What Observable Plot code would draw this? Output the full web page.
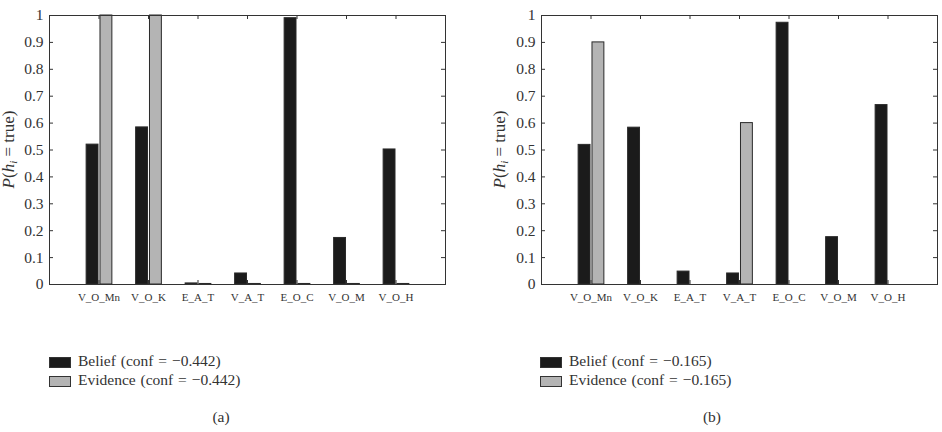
<!DOCTYPE html>
<html>
<head>
<meta charset="utf-8">
<script src="https://cdn.jsdelivr.net/npm/d3@7"></script>
<script src="https://cdn.jsdelivr.net/npm/@observablehq/plot@0.6"></script>
<style>
  body { margin: 0; background: #fff; font-family: "Liberation Serif", "DejaVu Serif", serif; color: #222; }
  #root { position: relative; width: 942px; height: 432px; overflow: hidden; }
  .panel { position: absolute; top: 0; width: 471px; height: 305px; }
  .sw { position: absolute; width: 20px; height: 9px; border: 1px solid #333; }
  .lt { position: absolute; font-size: 15.5px; line-height: 16px; white-space: nowrap; color: #333; word-spacing: 1px; }
  .cap { position: absolute; font-size: 15.5px; line-height: 16px; transform: translateX(-50%); color: #333; }
</style>
</head>
<body>
<div id="root"></div>
<script>
const categories = ["V_O_Mn", "V_O_K", "E_A_T", "V_A_T", "E_O_C", "V_O_M", "V_O_H"];
const beliefA   = [0.520, 0.584, 0.004, 0.041, 0.990, 0.173, 0.502];
const evidenceA = [1.000, 1.000, 0.002, 0.002, 0.002, 0.002, 0.002];
const beliefB   = [0.519, 0.583, 0.048, 0.041, 0.973, 0.176, 0.667];
const evidenceB = [0.900, 0.000, 0.000, 0.600, 0.000, 0.000, 0.000];
const confA = "−0.442";
const confB = "−0.165";
const yTicks = [0, 0.1, 0.2, 0.3, 0.4, 0.5, 0.6, 0.7, 0.8, 0.9, 1];
const xTicks = [1, 2, 3, 4, 5, 6, 7];

const BLACK = "#1b1b1b", GRAY = "#b4b4b4", EDGE = "#2a2a2a";

function buildRows(belief, evidence) {
  const rows = [];
  categories.forEach((c, i) => {
    rows.push({cat: c, pos: i + 1, series: "Belief", value: belief[i]});
    if (evidence[i] > 0) rows.push({cat: c, pos: i + 1, series: "Evidence", value: evidence[i]});
  });
  return rows;
}

function panel(belief, evidence, left, mLeft, mRight, labelX) {
  const rows = buildRows(belief, evidence);
  const frameW = 471 - mLeft - mRight;
  const frameH = 305 - 15 - 21;
  const chart = Plot.plot({
    width: 471,
    height: 305,
    marginLeft: mLeft,
    marginRight: mRight,
    marginTop: 15,
    marginBottom: 21,
    style: {fontFamily: "Liberation Serif, serif", color: "#333", background: "white"},
    x: {domain: [0, 8], axis: null},
    y: {domain: [0, 1], axis: null},
    marks: [
      Plot.rectY(rows, {
        x1: d => d.pos + (d.series === "Belief" ? -0.25 : 0.03),
        x2: d => d.pos + (d.series === "Belief" ? -0.01 : 0.27),
        y: "value",
        fill: d => d.series === "Belief" ? BLACK : GRAY,
        stroke: EDGE,
        strokeWidth: 1
      }),
      Plot.tickY(yTicks, {y: d => d, insetRight: frameW - 4, stroke: "#333"}),
      Plot.tickY(yTicks, {y: d => d, insetLeft: frameW - 4, stroke: "#333"}),
      Plot.tickX(xTicks, {x: d => d, insetBottom: frameH - 4, stroke: "#333"}),
      Plot.tickX(xTicks, {x: d => d, insetTop: frameH - 4, stroke: "#333"}),
      Plot.frame({stroke: "#333", strokeWidth: 1}),
      Plot.axisY(yTicks, {
        tickSize: 0, tickPadding: 6, fontSize: 15.5, label: null,
        tickFormat: d => String(+d.toFixed(1))
      }),
      Plot.axisX(xTicks, {
        tickSize: 0, tickPadding: 9, fontSize: 11, label: null,
        tickFormat: d => categories[d - 1]
      })
    ]
  });
  const svg = d3.select(chart);
  const t = svg.append("text")
    .attr("transform", `translate(${labelX},${15 + frameH / 2}) rotate(-90)`)
    .attr("text-anchor", "middle")
    .attr("font-size", 17)
    .attr("fill", "#333")
    .attr("font-family", "Liberation Serif, serif");
  t.append("tspan").attr("font-style", "italic").text("P");
  t.append("tspan").text("(");
  t.append("tspan").attr("font-style", "italic").text("h");
  t.append("tspan").attr("font-style", "italic").attr("font-size", 11).attr("dy", 3).text("i");
  t.append("tspan").attr("dy", -3).text(" = true)");
  const div = document.createElement("div");
  div.className = "panel";
  div.style.left = left + "px";
  div.appendChild(chart);
  document.getElementById("root").appendChild(div);
}

panel(beliefA, evidenceA, 0, 49, 26, 14);
panel(beliefB, evidenceB, 471, 70, 5, 34);

function legend(x, conf, capX, capText) {
  const root = document.getElementById("root");
  const items = [["Belief", BLACK, 357], ["Evidence", GRAY, 376]];
  for (const [name, col, top] of items) {
    const sw = document.createElement("div");
    sw.className = "sw";
    sw.style.left = x + "px";
    sw.style.top = top + "px";
    sw.style.background = col;
    root.appendChild(sw);
    const lt = document.createElement("div");
    lt.className = "lt";
    lt.style.left = (x + 29) + "px";
    lt.style.top = (top - 4) + "px";
    lt.textContent = `${name} (conf = ${conf})`;
    root.appendChild(lt);
  }
  const cap = document.createElement("div");
  cap.className = "cap";
  cap.style.left = capX + "px";
  cap.style.top = "409px";
  cap.textContent = capText;
  root.appendChild(cap);
}
legend(49, confA, 221, "(a)");
legend(540, confB, 712, "(b)");
</script>
</body>
</html>
